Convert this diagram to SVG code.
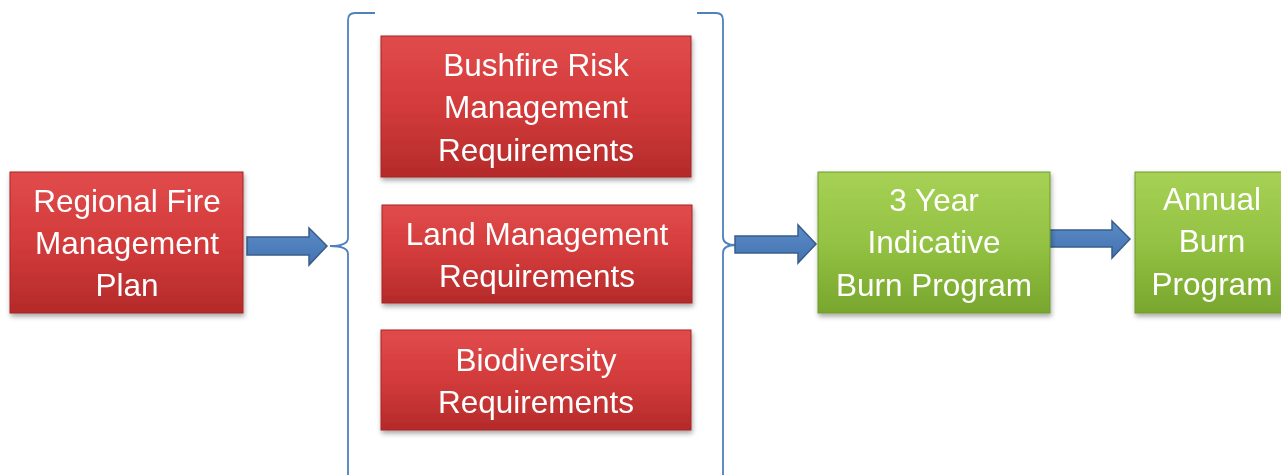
<svg xmlns="http://www.w3.org/2000/svg" width="1281" height="475" viewBox="0 0 1281 475">
<defs>
<linearGradient id="red" x1="0" y1="0" x2="0" y2="1">
<stop offset="0" stop-color="#E14B4B"/>
<stop offset="0.5" stop-color="#D33B3B"/>
<stop offset="1" stop-color="#B42A2A"/>
</linearGradient>
<linearGradient id="green" x1="0" y1="0" x2="0" y2="1">
<stop offset="0" stop-color="#A6D155"/>
<stop offset="0.5" stop-color="#94C243"/>
<stop offset="1" stop-color="#78A62E"/>
</linearGradient>
<linearGradient id="blue" x1="0" y1="0" x2="0" y2="1">
<stop offset="0" stop-color="#5A8CC8"/>
<stop offset="1" stop-color="#4373B0"/>
</linearGradient>
<filter id="sh" x="-10%" y="-10%" width="125%" height="130%">
<feDropShadow dx="1" dy="3" stdDeviation="2.5" flood-color="#000" flood-opacity="0.35"/>
</filter>
</defs>
<style>
.red{fill:url(#red);stroke:#A52626;stroke-width:1}
.green{fill:url(#green);stroke:#6E9A2A;stroke-width:1}
.box{filter:url(#sh)}
.t{font-family:"Liberation Sans",Arial,sans-serif;font-size:31.5px;fill:#FFFFFF;text-anchor:middle}
.arrow{fill:url(#blue);stroke:#385D8A;stroke-width:1.5}
.brace{fill:none;stroke:#4F81BD;stroke-width:1.8}
</style>
<rect width="1281" height="475" fill="#FFFFFF"/>
<g id="connectors">
<path class="brace" d="M375,13 L355,13 Q348,13 348,20 L348,238 Q348,246 330,246 Q348,246 348,254 L348,476"/>
<path class="brace" d="M697,13 L716,13 Q723,13 723,20 L723,237 Q723,245 736,245 Q723,245 723,253 L723,476"/>
<polygon class="arrow" points="247,237 309,237 309,228 327,246 309,265 309,255 247,255"/>
<polygon class="arrow" points="735,236 798,236 798,225 816,244 798,263 798,253 735,253"/>
<polygon class="arrow" points="1048,230 1112,230 1112,221 1130,239 1112,258 1112,247 1048,247"/>
</g>
<g id="regional" class="box">
<rect class="red" x="10" y="172" width="233" height="141"/>
<text class="t" x="127" y="212">Regional Fire</text>
<text class="t" x="127" y="254">Management</text>
<text class="t" x="127" y="296">Plan</text>
</g>
<g id="bushfire" class="box">
<rect class="red" x="381" y="36" width="310" height="141"/>
<text class="t" x="536" y="76">Bushfire Risk</text>
<text class="t" x="536" y="118">Management</text>
<text class="t" x="536" y="161">Requirements</text>
</g>
<g id="land" class="box">
<rect class="red" x="382" y="205" width="310" height="98"/>
<text class="t" x="537" y="245">Land Management</text>
<text class="t" x="537" y="287">Requirements</text>
</g>
<g id="biodiversity" class="box">
<rect class="red" x="381" y="330" width="310" height="100"/>
<text class="t" x="536" y="371">Biodiversity</text>
<text class="t" x="536" y="413">Requirements</text>
</g>
<g id="threeyear" class="box">
<rect class="green" x="818" y="172" width="232" height="141"/>
<text class="t" x="934" y="211">3 Year</text>
<text class="t" x="934" y="253">Indicative</text>
<text class="t" x="934" y="296">Burn Program</text>
</g>
<g id="annual" class="box">
<rect class="green" x="1135" y="172" width="160" height="141"/>
<text class="t" x="1212" y="210">Annual</text>
<text class="t" x="1212" y="252">Burn</text>
<text class="t" x="1212" y="295">Program</text>
</g>
</svg>
